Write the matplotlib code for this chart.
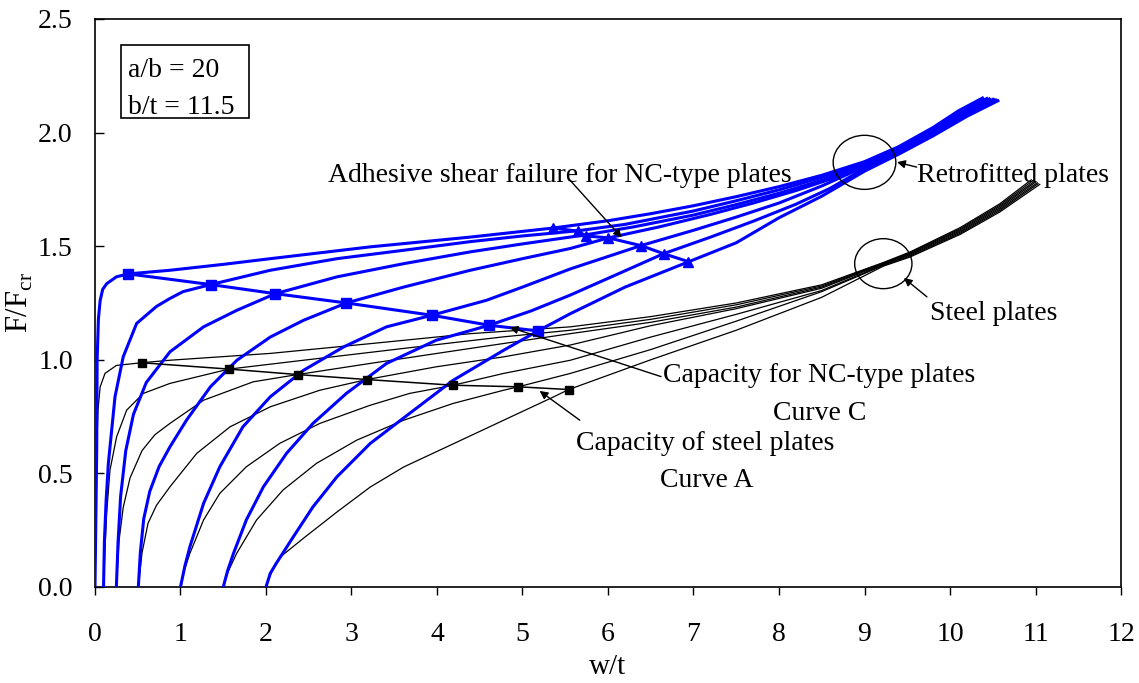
import numpy as np
import matplotlib.pyplot as plt
from matplotlib.patches import Ellipse, Rectangle

# steel plates (black), one curve per initial imperfection w0/t = 0, 0.1, 0.25, 0.5, 1, 1.5, 2
s1_x = [0, 0.01, 0.02, 0.035, 0.06, 0.117, 0.25, 0.546, 0.877, 2.05, 3.22, 4.39, 5.56, 6.5, 7.5, 8.5, 9.22, 9.53, 10.12, 10.58, 10.95]
s1_y = [0, 0.3, 0.6, 0.78, 0.88, 0.94, 0.975, 0.987, 0.998, 1.028, 1.071, 1.115, 1.145, 1.19, 1.25, 1.33, 1.428, 1.474, 1.582, 1.686, 1.792]
s2_x = [0.1, 0.115, 0.136, 0.175, 0.253, 0.37, 0.565, 0.877, 1.567, 2.44, 3.61, 4.78, 5.56, 6.5, 7.5, 8.5, 9.22, 9.53, 10.12, 10.58, 10.97]
s2_y = [0, 0.15, 0.323, 0.514, 0.661, 0.778, 0.852, 0.896, 0.959, 0.998, 1.05, 1.101, 1.13, 1.178, 1.242, 1.325, 1.426, 1.471, 1.577, 1.68, 1.789]
s3_x = [0.25, 0.28, 0.33, 0.41, 0.55, 0.7, 0.877, 1.27, 1.85, 2.37, 3.22, 4.39, 5.56, 6.5, 7.5, 8.5, 9.22, 9.53, 10.12, 10.58, 10.99]
s3_y = [0, 0.2, 0.35, 0.48, 0.6, 0.67, 0.72, 0.822, 0.903, 0.935, 0.984, 1.05, 1.115, 1.165, 1.232, 1.32, 1.424, 1.468, 1.572, 1.674, 1.786]
s4_x = [0.507, 0.55, 0.62, 0.72, 0.877, 1.19, 1.58, 2.05, 2.63, 3.18, 3.99, 4.78, 5.56, 6.5, 7.5, 8.5, 9.22, 9.53, 10.12, 10.58, 11.0]
s4_y = [0, 0.15, 0.28, 0.36, 0.441, 0.588, 0.705, 0.793, 0.866, 0.913, 0.969, 1.013, 1.065, 1.15, 1.225, 1.315, 1.421, 1.464, 1.567, 1.668, 1.782]
s5_x = [1.0, 1.05, 1.11, 1.27, 1.46, 1.77, 2.16, 2.63, 3.22, 3.68, 4.19, 4.78, 5.56, 6.5, 7.5, 8.5, 9.22, 9.53, 10.12, 10.58, 11.02]
s5_y = [0, 0.08, 0.148, 0.295, 0.412, 0.529, 0.632, 0.72, 0.80, 0.852, 0.888, 0.94, 0.998, 1.10, 1.20, 1.305, 1.418, 1.46, 1.562, 1.662, 1.779]
s6_x = [1.5, 1.56, 1.657, 1.89, 2.2, 2.59, 3.06, 3.61, 4.19, 4.78, 4.95, 5.56, 6.5, 7.5, 8.5, 9.22, 9.53, 10.12, 10.58, 11.03]
s6_y = [0, 0.07, 0.148, 0.295, 0.427, 0.544, 0.646, 0.734, 0.808, 0.866, 0.881, 0.94, 1.045, 1.17, 1.30, 1.415, 1.456, 1.557, 1.656, 1.775]
s7_x = [2.0, 2.06, 2.16, 2.44, 2.83, 3.22, 3.61, 4.19, 4.78, 5.36, 5.54, 6.5, 7.5, 8.5, 9.22, 9.53, 10.12, 10.58, 11.05]
s7_y = [0, 0.06, 0.13, 0.215, 0.33, 0.44, 0.528, 0.63, 0.734, 0.836, 0.869, 1.0, 1.13, 1.275, 1.412, 1.452, 1.552, 1.65, 1.772]

# retrofitted plates (blue)
r1_x = [0, 0.01, 0.02, 0.025, 0.04, 0.06, 0.09, 0.137, 0.25, 0.39, 0.877, 1.5, 2.05, 3.22, 4.39, 5.36, 6.0, 6.5, 7.0, 7.5, 8.0, 8.5, 9.0, 9.4, 9.8, 10.1, 10.38]
r1_y = [0, 0.3, 0.6, 1.0, 1.18, 1.26, 1.31, 1.335, 1.365, 1.378, 1.394, 1.42, 1.445, 1.497, 1.54, 1.58, 1.612, 1.643, 1.678, 1.718, 1.762, 1.812, 1.872, 1.938, 2.022, 2.096, 2.152]
r2_x = [0.1, 0.11, 0.13, 0.156, 0.234, 0.33, 0.487, 0.72, 0.877, 1.03, 1.353, 2.05, 2.83, 3.61, 4.39, 5.0, 5.65, 6.2, 7.0, 7.5, 8.0, 8.5, 9.0, 9.4, 9.8, 10.15, 10.43]
r2_y = [0, 0.2, 0.38, 0.543, 0.837, 1.013, 1.16, 1.235, 1.27, 1.30, 1.331, 1.394, 1.445, 1.482, 1.52, 1.545, 1.568, 1.596, 1.655, 1.70, 1.748, 1.803, 1.868, 1.933, 2.017, 2.093, 2.15]
r3_x = [0.25, 0.27, 0.3, 0.36, 0.45, 0.6, 0.877, 1.27, 1.66, 2.11, 2.83, 3.61, 4.39, 5.0, 5.74, 6.3, 7.0, 7.5, 8.0, 8.5, 9.0, 9.4, 9.8, 10.2, 10.46]
r3_y = [0, 0.2, 0.4, 0.6, 0.76, 0.9, 1.035, 1.145, 1.218, 1.291, 1.365, 1.423, 1.475, 1.51, 1.55, 1.585, 1.637, 1.683, 1.733, 1.79, 1.862, 1.928, 2.011, 2.092, 2.148]
r4_x = [0.507, 0.53, 0.57, 0.64, 0.75, 0.877, 1.07, 1.35, 1.66, 2.05, 2.44, 2.94, 3.61, 4.39, 5.0, 5.56, 6.0, 6.6, 7.2, 7.7, 8.2, 8.6, 9.0, 9.4, 9.8, 10.2, 10.5]
r4_y = [0, 0.15, 0.3, 0.42, 0.53, 0.617, 0.734, 0.881, 0.998, 1.10, 1.174, 1.25, 1.32, 1.394, 1.445, 1.49, 1.536, 1.585, 1.64, 1.69, 1.745, 1.795, 1.856, 1.922, 2.005, 2.088, 2.146]
r5_x = [1.0, 1.05, 1.11, 1.27, 1.46, 1.73, 2.05, 2.44, 2.91, 3.41, 3.94, 4.58, 5.0, 5.56, 6.39, 7.0, 7.5, 8.0, 8.5, 9.0, 9.4, 9.8, 10.2, 10.52]
r5_y = [0, 0.09, 0.177, 0.368, 0.529, 0.705, 0.837, 0.954, 1.057, 1.145, 1.196, 1.262, 1.32, 1.40, 1.503, 1.57, 1.628, 1.69, 1.765, 1.85, 1.917, 1.998, 2.082, 2.144]
r6_x = [1.5, 1.55, 1.62, 1.77, 1.97, 2.24, 2.55, 2.94, 3.41, 3.99, 4.61, 5.1, 5.56, 6.1, 6.65, 7.2, 7.7, 8.2, 8.6, 9.0, 9.4, 9.8, 10.2, 10.54]
r6_y = [0, 0.07, 0.148, 0.295, 0.441, 0.588, 0.72, 0.852, 0.984, 1.086, 1.152, 1.215, 1.285, 1.375, 1.467, 1.54, 1.61, 1.685, 1.755, 1.842, 1.912, 1.992, 2.077, 2.142]
r7_x = [2.0, 2.05, 2.12, 2.32, 2.55, 2.83, 3.22, 3.68, 4.19, 4.78, 5.18, 5.56, 6.2, 6.94, 7.5, 8.0, 8.5, 9.0, 9.4, 9.8, 10.2, 10.56]
r7_y = [0, 0.06, 0.104, 0.221, 0.353, 0.485, 0.632, 0.764, 0.91, 1.042, 1.127, 1.203, 1.32, 1.431, 1.515, 1.625, 1.72, 1.83, 1.905, 1.985, 2.072, 2.14]

# capacity points
capA_x = [0.546, 1.567, 2.37, 3.18, 4.19, 4.95, 5.54]
capA_y = [0.987, 0.959, 0.935, 0.913, 0.888, 0.881, 0.869]
capC_x = [0.39, 1.353, 2.11, 2.94, 3.94, 4.61, 5.18]
capC_y = [1.378, 1.331, 1.291, 1.25, 1.196, 1.152, 1.127]
shear_x = [5.36, 5.65, 5.74, 6.0, 6.39, 6.65, 6.94]
shear_y = [1.58, 1.566, 1.545, 1.537, 1.502, 1.467, 1.432]

steel = [(s1_x, s1_y), (s2_x, s2_y), (s3_x, s3_y), (s4_x, s4_y), (s5_x, s5_y), (s6_x, s6_y), (s7_x, s7_y)]
retro = [(r1_x, r1_y), (r2_x, r2_y), (r3_x, r3_y), (r4_x, r4_y), (r5_x, r5_y), (r6_x, r6_y), (r7_x, r7_y)]

plt.rcParams['font.family'] = ['Liberation Serif', 'DejaVu Serif']
plt.rcParams['mathtext.fontset'] = 'custom'
plt.rcParams['mathtext.rm'] = 'Liberation Serif'

BLUE = "#0000ff"
fig = plt.figure(figsize=(11.39, 6.83), dpi=100, facecolor="white")
ax = fig.add_axes([0.0834, 0.1406, 0.9008, 0.8316])

for xs, ys in steel:
	ax.plot(xs, ys, color="black", lw=0.9, zorder=2)
for xs, ys in retro:
	ax.plot(xs, ys, color=BLUE, lw=2.2, zorder=3)

ax.plot(capC_x, capC_y, color=BLUE, lw=2.2, marker="s", ms=6.5, zorder=4)
ax.plot(shear_x, shear_y, color=BLUE, lw=2.2, marker="^", ms=7, zorder=4)
ax.plot(capA_x, capA_y, color="black", lw=1.1, marker="s", ms=6, zorder=5)

ax.set_xlim(0, 12)
ax.set_ylim(0, 2.5)
ax.set_xticks(range(0, 13))
ax.set_yticks(np.arange(0, 2.51, 0.5))
ax.set_yticklabels(["%.1f" % v for v in np.arange(0, 2.51, 0.5)])
ax.tick_params(axis="x", direction="out", length=6, width=1, labelsize=20, pad=19)
ax.tick_params(axis="y", direction="in", length=6.5, width=1, labelsize=20, pad=16)
for sp in ax.spines.values():
	sp.set_linewidth(1.2)

ax.set_xlabel("w/t", fontsize=21, labelpad=5)
ax.set_ylabel("F/F$_{\\rm cr}$", fontsize=22, labelpad=2)

# parameter box
ax.add_patch(Rectangle((0.3, 2.065), 1.497, 0.321, fill=False, lw=1.2, ec="black", zorder=6))
ax.text(0.383, 2.244, "a/b = 20", fontsize=20, va="baseline", zorder=6)
ax.text(0.383, 2.083, "b/t = 11.5", fontsize=20, va="baseline", zorder=6)

# circles
ax.add_patch(Ellipse((9.0, 1.869), 0.733, 0.238, fill=False, lw=1, ec="black", zorder=6))
ax.add_patch(Ellipse((9.22, 1.423), 0.67, 0.22, fill=False, lw=1, ec="black", zorder=6))

arrow = dict(arrowstyle="-|>", color="black", lw=1, mutation_scale=12, shrinkA=0, shrinkB=0)
ax.annotate("", xy=(9.38, 1.870), xytext=(9.61, 1.848), arrowprops=arrow, zorder=6)
ax.annotate("", xy=(9.46, 1.36), xytext=(9.73, 1.277), arrowprops=arrow, zorder=6)
ax.annotate("", xy=(6.16, 1.538), xytext=(5.54, 1.797), arrowprops=arrow, zorder=6)
ax.annotate("", xy=(4.85, 1.143), xytext=(6.62, 0.926), arrowprops=arrow, zorder=6)
ax.annotate("", xy=(5.2, 0.863), xytext=(5.67, 0.734), arrowprops=arrow, zorder=6)

ax.text(9.61, 1.782, "Retrofitted plates", fontsize=20, va="baseline", zorder=6)
ax.text(9.77, 1.177, "Steel plates", fontsize=20, va="baseline", zorder=6)
ax.text(2.72, 1.782, "Adhesive shear failure for NC-type plates", fontsize=20, va="baseline", zorder=6)
ax.text(6.64, 0.903, "Capacity for NC-type plates", fontsize=20, va="baseline", zorder=6)
ax.text(7.93, 0.734, "Curve C", fontsize=20, va="baseline", zorder=6)
ax.text(5.63, 0.602, "Capacity of steel plates", fontsize=20, va="baseline", zorder=6)
ax.text(6.61, 0.44, "Curve A", fontsize=20, va="baseline", zorder=6)

fig.savefig("out.png", dpi=100, facecolor="white")
